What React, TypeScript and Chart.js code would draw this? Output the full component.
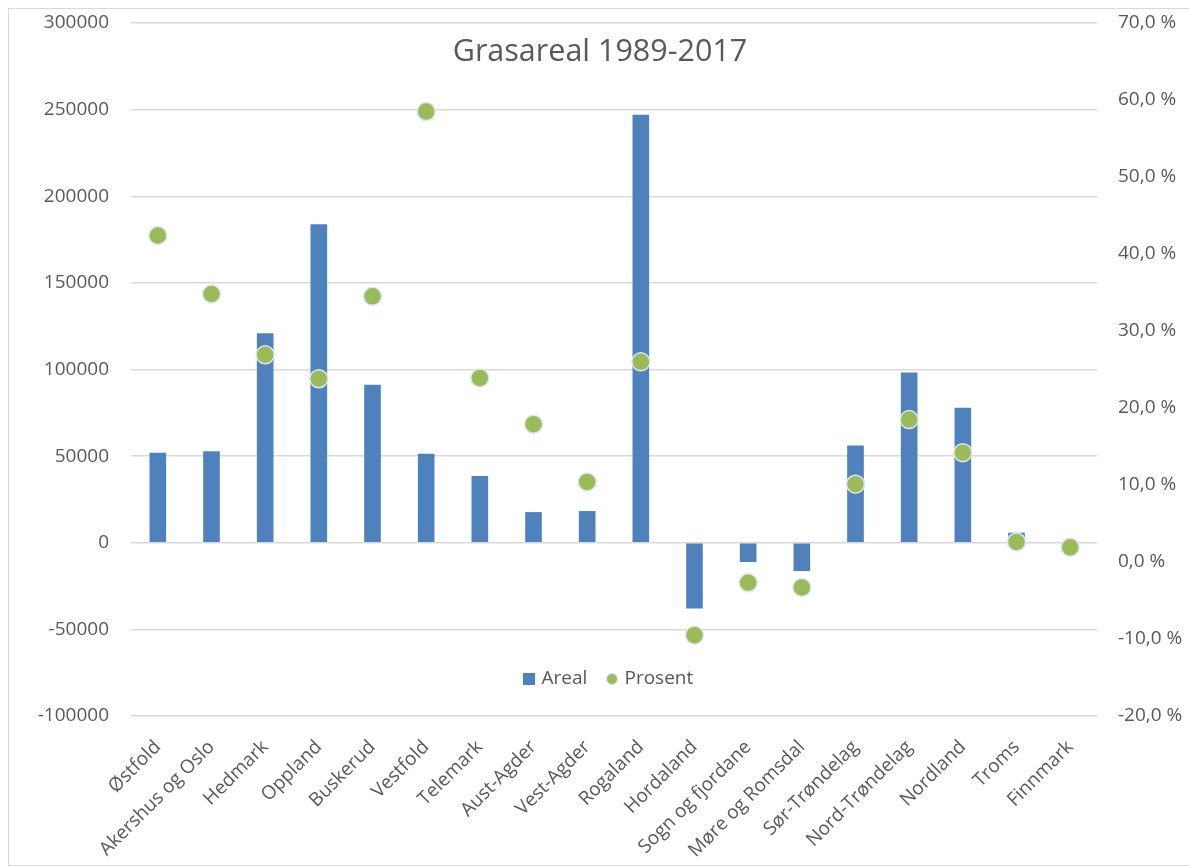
import React, { useEffect, useRef } from "react";
import { Chart, registerables } from "chart.js";

Chart.register(...registerables);

const titleText = "Grasareal 1989-2017";
const categories = [
  "Østfold",
  "Akershus og Oslo",
  "Hedmark",
  "Oppland",
  "Buskerud",
  "Vestfold",
  "Telemark",
  "Aust-Agder",
  "Vest-Agder",
  "Rogaland",
  "Hordaland",
  "Sogn og fjordane",
  "Møre og Romsdal",
  "Sør-Trøndelag",
  "Nord-Trøndelag",
  "Nordland",
  "Troms",
  "Finnmark",
];
const arealValues = [
  52000, 52800, 120900, 183800, 91200, 51400, 38500, 17700, 18300, 247100,
  -37900, -11100, -16300, 56200, 98200, 77900, 5800, 500,
];
const prosentValues = [
  42.4, 34.8, 26.9, 23.8, 34.5, 58.5, 23.9, 17.9, 10.4, 26.0, -9.5, -2.7, -3.3,
  10.1, 18.5, 14.2, 2.6, 1.9,
];
const leftAxisRange = [-100000, 300000];
const leftAxisStep = 50000;
const rightAxisRange = [-20, 70];
const rightAxisStep = 10;
const seriesNames = ["Areal", "Prosent"];

const BAR_COLOR = "#4F81BD";
const DOT_COLOR = "#9BBB59";
const DOT_BORDER = "#dce6f2";
const TEXT_COLOR = "#595959";
const FONT = "'Open Sans'";

const overlayPlugin = {
  id: "overlay",
  afterDraw(chart: any) {
    const { ctx, chartArea } = chart;
    const cx = chart.width / 2;
    ctx.save();
    // title
    ctx.fillStyle = TEXT_COLOR;
    ctx.font = `30.5px ${FONT}`;
    ctx.textAlign = "center";
    ctx.textBaseline = "alphabetic";
    ctx.fillText(titleText, cx + 1, 52);

    // legend
    const ly = chartArea.bottom - 37;
    ctx.font = `19px ${FONT}`;
    ctx.textAlign = "left";
    ctx.textBaseline = "middle";
    ctx.fillStyle = BAR_COLOR;
    ctx.fillRect(cx - 76, ly - 6, 12, 12);
    ctx.fillStyle = TEXT_COLOR;
    ctx.fillText(seriesNames[0], cx - 57.5, ly);

    const dotX = cx + 13;
    ctx.beginPath();
    ctx.arc(dotX, ly, 5.5, 0, Math.PI * 2);
    ctx.fillStyle = DOT_COLOR;
    ctx.fill();
    ctx.lineWidth = 1;
    ctx.strokeStyle = DOT_BORDER;
    ctx.stroke();
    ctx.fillStyle = TEXT_COLOR;
    ctx.fillText(seriesNames[1], cx + 25.5, ly);
    ctx.restore();
  },
};

export default function App() {
  const canvasRef = useRef<HTMLCanvasElement | null>(null);

  useEffect(() => {
    if (!canvasRef.current) return;
    Chart.defaults.font.family = FONT;
    Chart.defaults.color = TEXT_COLOR;
    const chart = new Chart(canvasRef.current, {
      type: "bar",
      data: {
        labels: categories,
        datasets: [
          {
            type: "line",
            label: seriesNames[1],
            data: prosentValues,
            yAxisID: "y1",
            showLine: false,
            pointRadius: 9,
            pointHoverRadius: 9,
            pointBackgroundColor: DOT_COLOR,
            pointBorderColor: DOT_BORDER,
            pointBorderWidth: 1.5,
            order: 0,
          } as any,
          {
            type: "bar",
            label: seriesNames[0],
            data: arealValues,
            yAxisID: "y",
            backgroundColor: BAR_COLOR,
            barPercentage: 0.31,
            categoryPercentage: 1,
            order: 1,
          },
        ],
      },
      options: {
        animation: false,
        responsive: true,
        maintainAspectRatio: false,
        layout: { padding: { top: 14, left: 0, right: 0, bottom: 0 } },
        plugins: {
          legend: { display: false },
          title: { display: false },
          tooltip: { enabled: false },
        },
        scales: {
          x: {
            grid: { display: false },
            border: { display: false },
            ticks: {
              minRotation: 45,
              maxRotation: 45,
              autoSkip: false,
              padding: 12,
              font: { size: 19 },
              color: TEXT_COLOR,
            },
            afterFit(scale: any) {
              scale.height = 149;
            },
          },
          y: {
            position: "left",
            min: leftAxisRange[0],
            max: leftAxisRange[1],
            grid: {
              color: "#d9d9d9",
              lineWidth: 1.5,
              drawTicks: false,
            },
            border: { display: false },
            ticks: {
              stepSize: leftAxisStep,
              padding: 22,
              font: { size: 19 },
              color: TEXT_COLOR,
              callback: (v: any) => String(v),
            },
            afterFit(scale: any) {
              scale.width = 122;
              scale.paddingTop = 0;
              scale.paddingBottom = 0;
            },
          },
          y1: {
            position: "right",
            min: rightAxisRange[0],
            max: rightAxisRange[1],
            grid: { display: false, drawTicks: false },
            border: { display: false },
            ticks: {
              stepSize: rightAxisStep,
              padding: 21,
              font: { size: 19 },
              color: TEXT_COLOR,
              callback: (v: any) => Number(v).toFixed(1).replace(".", ",") + " %",
            },
            afterFit(scale: any) {
              scale.width = 92;
              scale.paddingTop = 0;
              scale.paddingBottom = 0;
            },
          },
        },
      },
      plugins: [overlayPlugin],
    });
    return () => chart.destroy();
  }, []);

  return (
    <div
      style={{
        position: "fixed",
        left: 8,
        top: 8,
        width: 1181,
        height: 858,
        boxSizing: "border-box",
        borderLeft: "1px solid #d9d9d9",
        borderTop: "1px solid #d9d9d9",
        borderBottom: "1px solid #d9d9d9",
        background: "#fff",
      }}
    >
      <div style={{ position: "relative", width: 1180, height: 856 }}>
        <canvas ref={canvasRef} />
      </div>
    </div>
  );
}
